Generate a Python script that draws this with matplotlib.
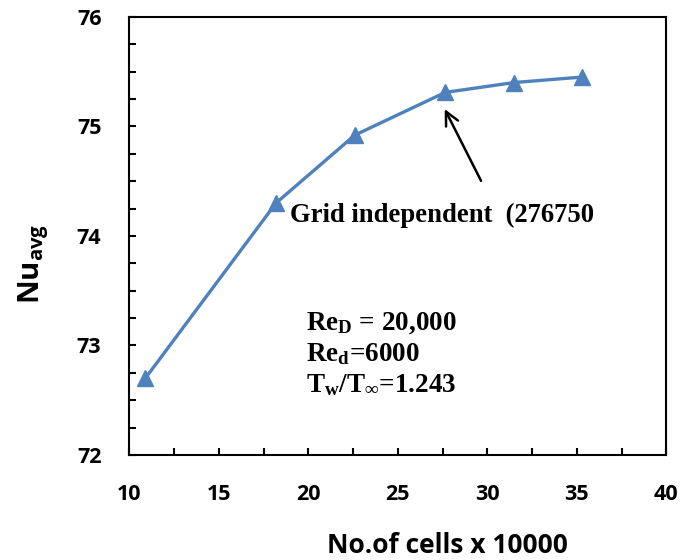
import matplotlib
matplotlib.use("Agg")
import matplotlib.pyplot as plt
from matplotlib.ticker import MultipleLocator

# grid-independence study: average Nusselt number vs. mesh size
cells = [10.9, 18.2, 22.6, 27.65, 31.5, 35.3]     # No. of cells x 10000
nu_avg = [72.70, 74.30, 74.92, 75.31, 75.40, 75.45]

x_ticks = [10, 15, 20, 25, 30, 35, 40]
y_ticks = [72, 73, 74, 75, 76]

note = "Grid independent  (276750"
params = [r"$\mathbf{Re}_\mathbf{D}$ = 20,000",
          r"$\mathbf{Re}_\mathbf{d}$=6000",
          r"$\mathbf{T}_\mathbf{w}/\mathbf{T}_\mathbf{\infty}$=1.243"]

plt.rcParams["mathtext.fontset"] = "custom"
plt.rcParams["mathtext.rm"] = "Liberation Serif:bold"
plt.rcParams["mathtext.bf"] = "Liberation Serif:bold"
plt.rcParams["mathtext.it"] = "Liberation Serif:bold"
plt.rcParams["mathtext.sf"] = "Open Sans:bold"

fig = plt.figure(figsize=(6.8, 5.6), dpi=100)
ax = fig.add_axes([0.19, 0.1875, 0.79, 0.7825])

ax.plot(cells, nu_avg, color="#4F81BD", lw=2.4, marker="^", ms=11,
        markerfacecolor="#4F81BD", markeredgecolor="#4F81BD")

ax.set_xlim(10, 40)
ax.set_ylim(72, 76)
ax.set_xticks(x_ticks)
ax.set_yticks(y_ticks)
ax.xaxis.set_minor_locator(MultipleLocator(2.5))
ax.yaxis.set_minor_locator(MultipleLocator(0.25))
ax.tick_params(which="both", direction="in", length=5, width=1.5,
               top=False, right=False)
ax.tick_params(axis="x", which="major", pad=21)
ax.tick_params(axis="y", which="major", pad=20)
for lab in ax.get_xticklabels() + ax.get_yticklabels():
    lab.set_fontfamily("Open Sans")
    lab.set_fontweight("bold")
    lab.set_fontsize(15.5)
for sp in ax.spines.values():
    sp.set_linewidth(1.5)

ax.set_xlabel("No.of cells x 10000", fontfamily="Open Sans",
              fontweight="bold", fontsize=19)
ax.xaxis.set_label_coords(0.592, -0.175)
ax.set_ylabel(r"$\mathsf{Nu}_\mathsf{avg}$", fontsize=21)
ax.yaxis.set_label_coords(-0.145, 0.436)

# arrow to the selected mesh
ax.annotate("", xy=(27.55, 75.18), xytext=(29.72, 74.48),
            arrowprops=dict(arrowstyle="->", color="black", lw=1.8,
                            mutation_scale=24))
ax.text(19.0, 74.128, note, fontfamily="Liberation Serif", fontweight="bold",
        fontsize=19.2, va="baseline", ha="left")

for i, line in enumerate(params):
    ax.text(19.9, 73.142 - i * 0.283, line, fontfamily="Liberation Serif",
            fontweight="bold", fontsize=19.5, va="baseline", ha="left")

fig.savefig("out.png", dpi=100)
